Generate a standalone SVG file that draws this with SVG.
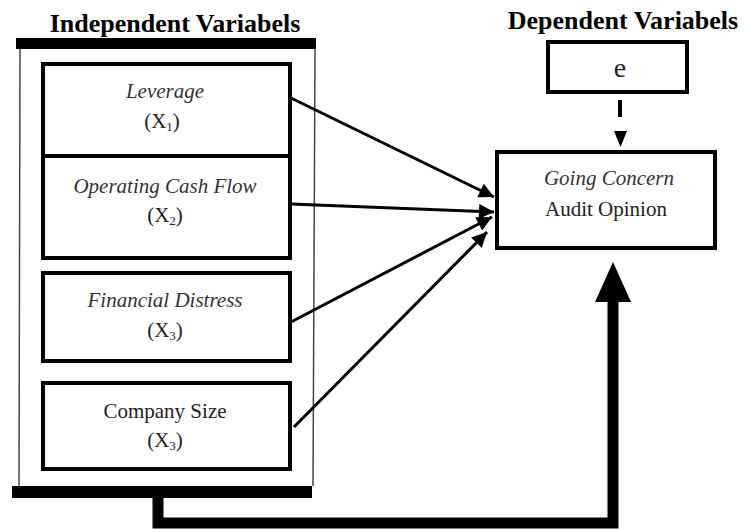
<svg xmlns="http://www.w3.org/2000/svg" width="744" height="529" viewBox="0 0 744 529">
<defs>
<style>
.title{font-family:"Liberation Serif","Times New Roman",serif;font-weight:bold;font-size:26px;fill:#000;text-anchor:middle}
.lbl{font-family:"Liberation Serif","Times New Roman",serif;font-size:21px;fill:#222;text-anchor:middle}
.it{font-style:italic;fill:#333}
.big{font-size:28px}
.box{fill:#fff;stroke:#000;stroke-width:4}
.thin{stroke:#444;stroke-width:1.5;fill:none}
.con{stroke:#000;stroke-width:3;fill:none}
</style>
<marker id="ah" viewBox="0 0 10 10" refX="10" refY="5" markerWidth="6" markerHeight="5" markerUnits="strokeWidth" orient="auto">
<path d="M0,0 L10,5 L0,10 z" fill="#000"/>
</marker>
</defs>
<rect width="744" height="529" fill="#fff"/>
<text class="title" x="175" y="32">Independent Variabels</text>
<text class="title" x="623" y="29">Dependent Variabels</text>

<g id="frame">
<line class="thin" x1="20" y1="49" x2="19" y2="486"/>
<line class="thin" x1="315" y1="49" x2="313" y2="486"/>
<rect x="16" y="38" width="300" height="11" fill="#000"/>
<rect x="12" y="486" width="300" height="12" fill="#000"/>
</g>

<g id="leverage">
<rect class="box" x="43" y="64" width="247" height="92"/>
<text class="lbl it" x="165" y="98">Leverage</text>
<text class="lbl" x="162" y="128">(X<tspan font-size="13" dy="3">1</tspan><tspan dy="-3">)</tspan></text>
</g>
<g id="ocf">
<rect class="box" x="43" y="156" width="247" height="102"/>
<text class="lbl it" x="165" y="193">Operating Cash Flow</text>
<text class="lbl" x="165" y="222">(X<tspan font-size="13" dy="3">2</tspan><tspan dy="-3">)</tspan></text>
</g>
<g id="fd">
<rect class="box" x="43" y="273" width="247" height="88"/>
<text class="lbl it" x="165" y="307">Financial Distress</text>
<text class="lbl" x="165" y="337">(X<tspan font-size="13" dy="3">3</tspan><tspan dy="-3">)</tspan></text>
</g>
<g id="size">
<rect class="box" x="43" y="383" width="247" height="86"/>
<text class="lbl" x="165" y="418">Company Size</text>
<text class="lbl" x="165" y="447">(X<tspan font-size="13" dy="3">3</tspan><tspan dy="-3">)</tspan></text>
</g>
<g id="e">
<rect class="box" x="548" y="42" width="139" height="50"/>
<text class="lbl big" x="620" y="77">e</text>
</g>
<g id="gc">
<rect class="box" x="497" y="152" width="218" height="96"/>
<text class="lbl it" x="609" y="185">Going Concern</text>
<text class="lbl" x="606" y="216">Audit Opinion</text>
</g>

<g id="connectors">
<line class="con" x1="291" y1="98" x2="494" y2="197" marker-end="url(#ah)"/>
<line class="con" x1="291" y1="204" x2="494" y2="212" marker-end="url(#ah)"/>
<line class="con" x1="291" y1="322" x2="492" y2="217" marker-end="url(#ah)"/>
<line class="con" x1="294" y1="427" x2="487" y2="232" marker-end="url(#ah)"/>
<line stroke="#000" stroke-width="4" x1="620" y1="100" x2="620" y2="117"/>
<polygon points="614,131 627,131 620.5,147" fill="#000"/>
<polyline points="158,498 158,523 613,523 613,300" fill="none" stroke="#000" stroke-width="11" stroke-linejoin="miter"/>
<polygon points="613,262 595,302 631,302" fill="#000"/>
</g>
</svg>
